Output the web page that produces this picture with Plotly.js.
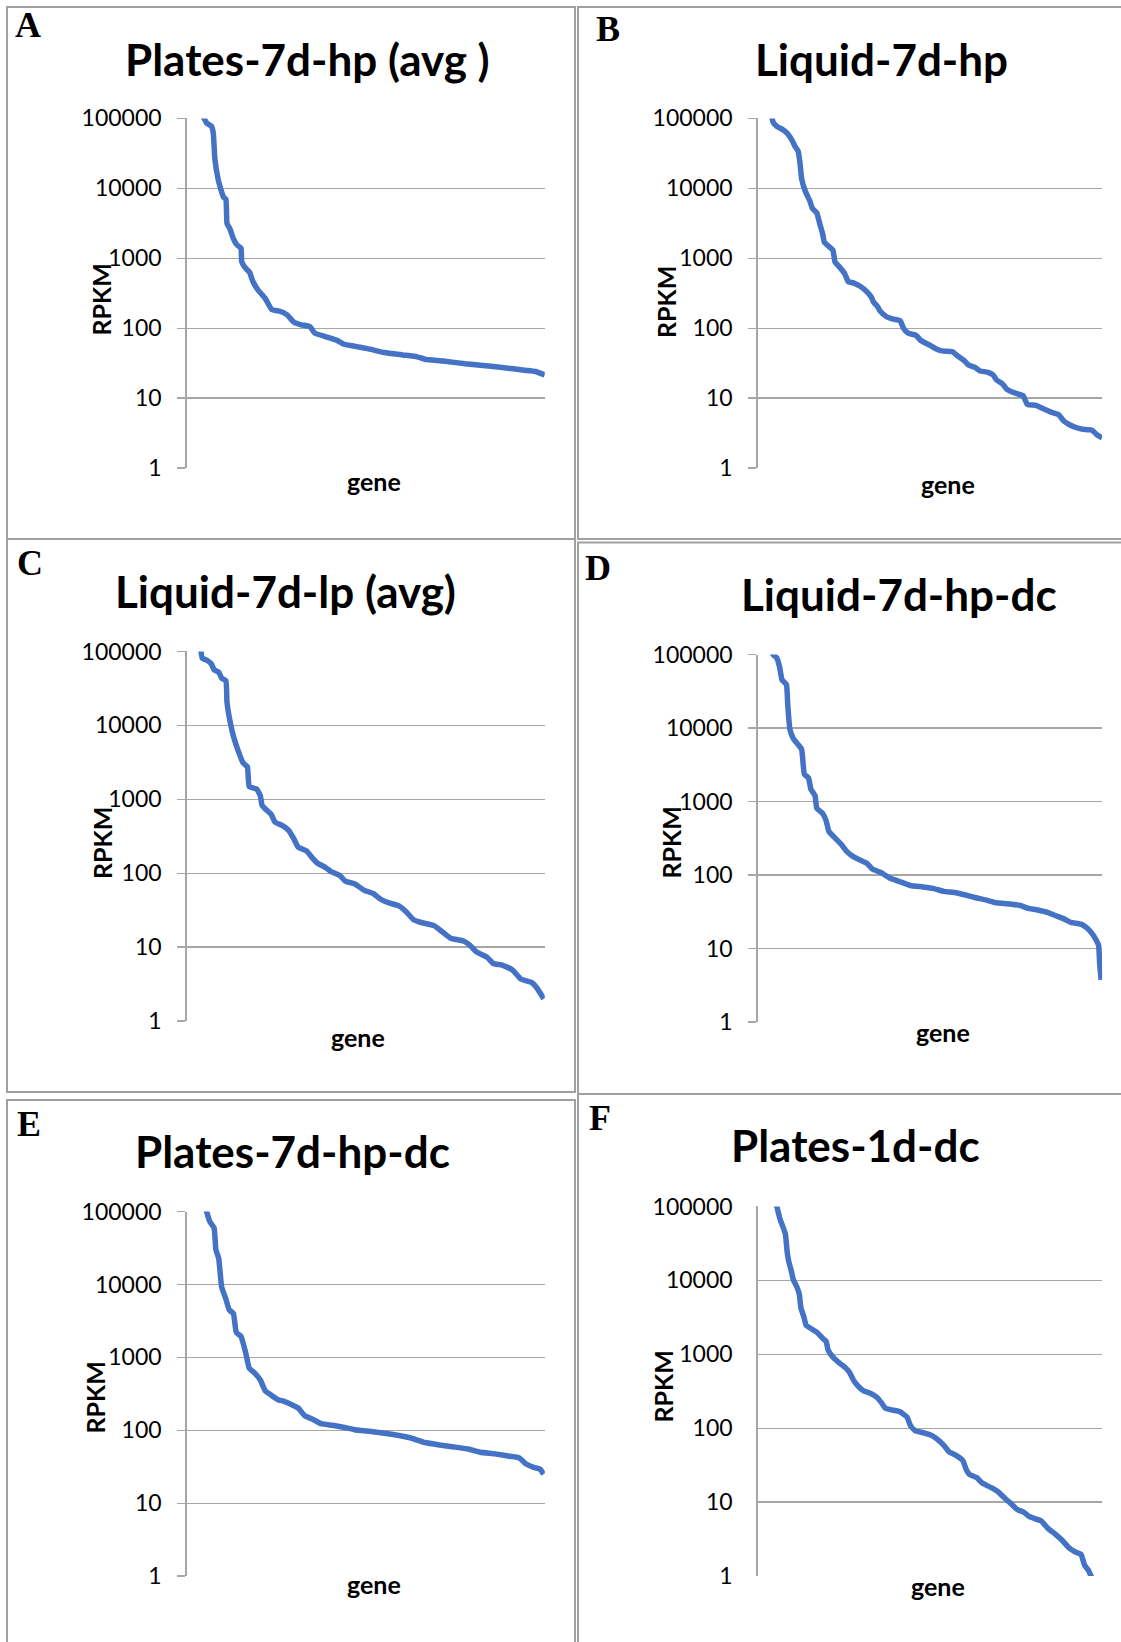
<!DOCTYPE html>
<html>
<head>
<meta charset="utf-8">
<script src="https://cdn.plot.ly/plotly-3.0.1.min.js"></script>
<style>html,body{margin:0;padding:0;background:#fff;}#chart{width:1121px;height:1642px;}</style>
</head>
<body>
<div id="chart"></div>
<script>
// ---- data (gene rank along axis, RPKM) ----
const panelLetters = ["A", "B", "C", "D", "E", "F"];
const panelTitles = ["Plates-7d-hp (avg )", "Liquid-7d-hp", "Liquid-7d-lp (avg)", "Liquid-7d-hp-dc", "Plates-7d-hp-dc", "Plates-1d-dc"];
const yTickVals = [1, 10, 100, 1000, 10000, 100000];
const yTickText = ["1", "10", "100", "1000", "10000", "100000"];

const geneA = [44,57,70,75,79,88,95,104,110,113,121,131,141,152,154,163,176,185,199,220,238,261,281,299,320,345,358,387,420,440,471,505,552,603,644,665,716,778,820,881,943,974,1000];
const rpkmA = [112000,85000,77000,60000,27000,13700,10000,7400,7000,3150,2650,1900,1550,1400,900,740,630,470,355,265,185,175,155,123,112,105,85,76,67,59,55,51,45,41.5,39,36,34,31,29.5,27.5,25,24,21.5];

const geneB = [40,45,56,74,88,101,108,118,124,128,138,152,159,172,182,189,194,205,219,225,237,253,263,278,298,318,330,337,348,357,374,394,414,424,437,460,475,495,520,540,566,581,601,611,631,646,667,684,694,710,722,742,771,783,808,828,852,874,889,904,924,944,970,985,1000];
const rpkmB = [117000,89000,77000,69000,60000,48000,40500,34000,21500,13700,9300,6600,5200,4450,2950,2230,1690,1510,1300,885,760,605,465,445,398,330,280,235,205,173,147,135,128,99,85,79,66,59,50,47,46,40,34,30,27.5,24.5,23.5,21.4,18.1,16.2,13.6,12.1,10.8,8.1,7.9,7.1,6.3,5.8,4.7,4.2,3.8,3.6,3.5,3.0,2.7];

const geneC = [39,44,57,69,77,90,98,110,113,121,131,144,158,170,175,196,206,211,227,237,247,268,285,299,312,335,351,366,387,407,428,443,469,495,521,541,562,593,613,634,655,691,711,737,773,789,809,840,856,881,907,918,933,964,979,997];
const rpkmC = [115000,81000,76000,68000,56500,52500,43500,40000,20500,11700,7100,4550,3100,2750,1480,1370,1120,825,690,620,490,440,380,295,224,200,161,136,120,103,93,78,72,59,53,44.7,40,36,30,23.4,21.5,19.5,16.5,13.2,12.1,10.8,8.6,7.2,6.0,5.7,5.0,4.45,3.7,3.3,2.75,2.0];

const geneD = [40,45,56,64,71,84,88,94,104,116,128,136,148,155,167,172,189,199,207,222,242,258,278,293,318,333,359,384,414,444,480,510,540,571,601,631,662,692,732,763,783,813,843,869,894,909,939,955,970,983,990,993,997];
const rpkmD = [120000,100000,90000,68000,45500,39000,19900,9600,7200,6100,5150,2350,2100,1470,1200,810,690,550,393,330,265,212,178,164,144,121,108,91,81,72,69,66,60,58,54,49.5,46,42,40.5,38.5,35.5,33.5,30.9,27.6,24.7,22.7,21.5,19.2,16.2,13,11,6.2,3.75];

const geneE = [52,57,65,77,82,90,98,110,119,131,139,152,165,175,191,206,220,234,255,273,294,313,330,351,376,407,438,469,510,552,593,624,665,706,747,789,820,861,902,928,948,969,987,997];
const rpkmE = [120000,97000,73000,60000,30000,22700,9300,6300,4500,4000,2200,1950,1170,715,605,490,347,310,263,250,224,200,158,143,123,117,110,102,97,91,85,79,68,63,59,55,50,47.5,44,42,34.5,31,29.3,25];

const geneF = [51,56,66,74,81,86,91,98,104,114,121,126,135,141,157,172,189,199,205,219,235,255,268,278,290,308,326,347,360,371,389,414,434,444,457,480,505,525,540,556,576,596,606,616,636,652,677,697,717,737,753,773,788,808,823,844,864,884,904,924,939,949,960,970];
const rpkmF = [126000,100000,66000,53000,42000,24500,17700,13500,10200,8200,6600,4250,3150,2470,2200,2000,1650,1500,1140,915,780,660,560,450,380,320,300,260,220,186,177,167,141,108,93,87,80,69,59,48,43,36.5,27.5,23.5,21.5,18.1,15.8,13.9,11.4,9.4,8.0,7.3,6.4,5.9,5.6,4.35,3.7,3.05,2.4,2.1,1.97,1.41,1.2,0.95];

const genes = [geneA, geneB, geneC, geneD, geneE, geneF];
const rpkms = [rpkmA, rpkmB, rpkmC, rpkmD, rpkmE, rpkmF];

// ---- layout geometry (pixels) ----
const W = 1121, H = 1642;
const px = v => v / W;
const py = v => 1 - v / H;

const plotBox = [
  {x0: 186.5, x1: 544.8, y0: 118.4, y1: 468.1},
  {x0: 757.5, x1: 1102.1, y0: 118.4, y1: 468.1},
  {x0: 186.5, x1: 544.8, y0: 651.4, y1: 1021.0},
  {x0: 757.5, x1: 1102.1, y0: 654.5, y1: 1022.1},
  {x0: 186.5, x1: 544.8, y0: 1211.6, y1: 1576.1},
  {x0: 757.5, x1: 1102.1, y0: 1206.4, y1: 1576.1}
];
const letterPos = [[28,25],[608,29],[30,563],[598,568],[29,1124],[600,1118]];
const titlePos = [[307,59],[881,59],[285,591],[899,594],[292,1151],[855,1145]];
const rpkmPos = [[100.5,300],[666,302],[102,843],[670.5,843],[94.5,1398],[662.5,1387]];
const genePos = [[374,481],[948,483.5],[358,1037],[943,1031.5],[374,1584],[937.5,1586]];
const panelRects = [
  [7,7,575,539],[578,7,1130,539],
  [7,539,575,1092],[578,542.5,1130,1094],
  [7,1100,575,1660],[578,1094,1130,1660]
];

const blue = "#4472C4";
const grid = "#A6A6A6";
const traces = [];
const layout = {
  width: W, height: H,
  margin: {l: 0, r: 0, t: 0, b: 0},
  paper_bgcolor: "#ffffff",
  plot_bgcolor: "rgba(0,0,0,0)",
  showlegend: false,
  annotations: [],
  shapes: []
};

for (let i = 0; i < 6; i++) {
  const s = i === 0 ? "" : String(i + 1);
  const b = plotBox[i];
  traces.push({
    type: "scatter", mode: "lines",
    x: genes[i], y: rpkms[i],
    xaxis: "x" + s, yaxis: "y" + s,
    line: {color: blue, width: 5.5, shape: "spline", smoothing: 0.35},
    hoverinfo: "skip"
  });
  layout["xaxis" + s] = {
    domain: [px(b.x0), px(b.x1)],
    anchor: "y" + s,
    range: [0, 1000],
    showgrid: false, zeroline: false, showticklabels: false,
    ticks: "", showline: false, fixedrange: true
  };
  const isF = i === 5;
  layout["yaxis" + s] = {
    domain: [py(b.y1), py(b.y0)],
    anchor: "x" + s,
    type: "log",
    range: [-0.0005, 5.0005],
    tickvals: yTickVals, ticktext: yTickText,
    showgrid: true, gridcolor: grid, gridwidth: 1.3,
    zeroline: false,
    showline: true, linecolor: grid, linewidth: 1.3,
    ticks: isF ? "" : "outside", ticklen: 8, tickcolor: grid, tickwidth: 1.3,
    ticklabelstandoff: isF ? 19 : 11,
    tickfont: {family: "Lato, 'Open Sans', sans-serif", size: 23, color: "#000"},
    fixedrange: true
  };
  layout.annotations.push({
    xref: "paper", yref: "paper", x: px(letterPos[i][0]), y: py(letterPos[i][1]),
    xanchor: "center", yanchor: "middle", showarrow: false,
    text: panelLetters[i],
    font: {family: "'Liberation Serif', 'Times New Roman', serif", size: 36, weight: 700, color: "#000"}
  });
  layout.annotations.push({
    xref: "paper", yref: "paper", x: px(titlePos[i][0]), y: py(titlePos[i][1]),
    xanchor: "center", yanchor: "middle", showarrow: false,
    text: panelTitles[i],
    font: {family: "Lato, 'Open Sans', sans-serif", size: 44, weight: 700, color: "#000"}
  });
  layout.annotations.push({
    xref: "paper", yref: "paper", x: px(rpkmPos[i][0]), y: py(rpkmPos[i][1]),
    xanchor: "center", yanchor: "middle", showarrow: false, textangle: -90,
    text: "RPKM",
    font: {family: "Lato, 'Open Sans', sans-serif", size: 25, weight: 700, color: "#000"}
  });
  layout.annotations.push({
    xref: "paper", yref: "paper", x: px(genePos[i][0]), y: py(genePos[i][1]),
    xanchor: "center", yanchor: "middle", showarrow: false,
    text: "gene",
    font: {family: "Lato, 'Open Sans', sans-serif", size: 25, weight: 700, color: "#000"}
  });
  const r = panelRects[i];
  layout.shapes.push({
    type: "rect", xref: "paper", yref: "paper", layer: "below",
    x0: px(r[0]), x1: px(r[2]), y0: py(r[3]), y1: py(r[1]),
    line: {color: "#A0A0A0", width: 2}, fillcolor: "rgba(0,0,0,0)"
  });
}

Plotly.newPlot("chart", traces, layout, {staticPlot: true, displayModeBar: false});
</script>
</body>
</html>
